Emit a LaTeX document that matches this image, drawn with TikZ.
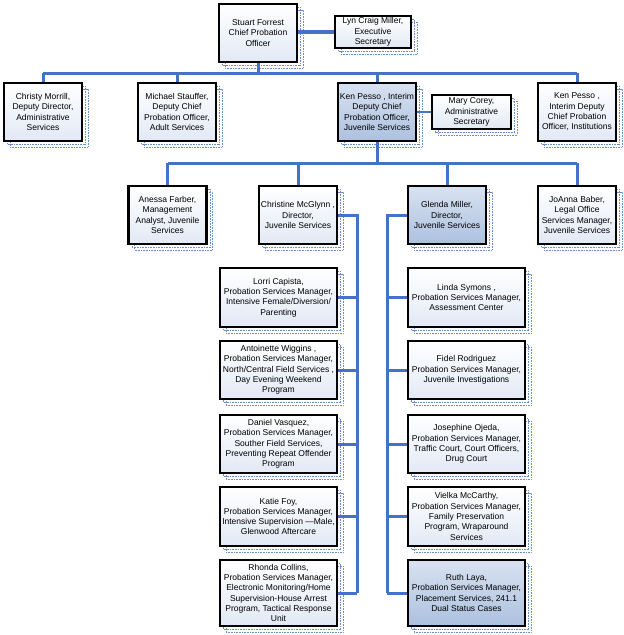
\documentclass[tikz,border=0pt]{standalone}
\usepackage{fontspec}
\setmainfont{Liberation Sans}
\definecolor{conn}{RGB}{68,114,196}
\definecolor{shad}{RGB}{110,140,200}
\definecolor{lightb}{RGB}{226,233,245}
\definecolor{midtop}{RGB}{216,226,241}
\definecolor{midbot}{RGB}{172,193,223}
\tikzset{
  box/.style={draw=black, line width=2.4pt, inner sep=0.5pt, align=center,
    font=\fontsize{8.5}{10.3}\selectfont,
    top color=white, bottom color=lightb,
    preaction={draw=shad, densely dotted, line width=0.6pt, transform canvas={xshift=3.5pt,yshift=-3.5pt}},
    preaction={draw=shad, densely dotted, line width=0.6pt, transform canvas={xshift=6pt,yshift=-6pt}}},
  dark/.style={top color=midtop, bottom color=midbot},
  std/.style={minimum width=78pt, minimum height=58pt},
  col/.style={minimum width=117pt, minimum height=58pt},
  link/.style={draw=conn, line width=3pt}
}
\begin{document}
\begin{tikzpicture}[x=1pt,y=-1pt]
\useasboundingbox (0,0) rectangle (624,635);
\fill[white] (0,0) rectangle (624,635);
\coordinate (b1) at (0,73);
\coordinate (b2) at (0,163);
\coordinate (lv) at (357,0);
\coordinate (rv) at (387,0);
\node[box, std] (stuart) at (258,33) {Stuart Forrest\\Chief Probation\\Officer};
\node[box, minimum width=76pt, minimum height=32pt] (lyn) at (373,32) {Lyn Craig Miller,\\Executive\\Secretary};
\node[box, std] (christy) at (43,112) {Christy Morrill,\\Deputy Director,\\Administrative\\Services};
\node[box, std] (michael) at (177,112) {Michael Stauffer,\\Deputy Chief\\Probation Officer,\\Adult Services};
\node[box, std, dark] (ken) at (377,112) {Ken Pesso , Interim\\Deputy Chief\\Probation Officer,\\Juvenile Services};
\node[box, minimum width=79pt, minimum height=34pt] (mary) at (471.5,112) {Mary Corey,\\Administrative\\Secretary};
\node[box, std] (inst) at (577,112) {Ken Pesso ,\\Interim Deputy\\Chief Probation\\Officer, Institutions};
\node[box, std] (anessa) at (167.5,215) {Anessa Farber,\\Management\\Analyst, Juvenile\\Services};
\node[box, std] (christine) at (298,215) {Christine McGlynn ,\\Director,\\Juvenile Services};
\node[box, std, dark] (glenda) at (447,215) {Glenda Miller,\\Director,\\Juvenile Services};
\node[box, std] (joanna) at (577,215) {JoAnna Baber,\\Legal Office\\Services Manager,\\Juvenile Services};
\node[box, col, minimum height=59pt] (lorri) at (278.5,297.5) {Lorri Capista,\\Probation Services Manager,\\Intensive Female/Diversion/\\Parenting};
\node[box, col] (antoinette) at (278.5,370) {Antoinette Wiggins ,\\Probation Services Manager,\\North/Central Field Services ,\\Day Evening Weekend\\Program};
\node[box, col] (daniel) at (278.5,444) {Daniel Vasquez,\\Probation Services Manager,\\Souther Field Services,\\Preventing Repeat Offender\\Program};
\node[box, col, minimum height=59pt] (katie) at (278.5,516.5) {Katie Foy,\\Probation Services Manager,\\Intensive Supervision ---Male,\\Glenwood Aftercare};
\node[box, col, minimum height=66pt] (rhonda) at (278.5,593) {Rhonda Collins,\\Probation Services Manager,\\Electronic Monitoring/Home\\Supervision-House Arrest\\Program, Tactical Response\\Unit};
\node[box, col, minimum height=59pt] (linda) at (466.5,297.5) {Linda Symons ,\\Probation Services Manager,\\Assessment Center};
\node[box, col] (fidel) at (466.5,370) {Fidel Rodriguez\\Probation Services Manager,\\Juvenile Investigations};
\node[box, col] (josephine) at (466.5,444) {Josephine Ojeda,\\Probation Services Manager,\\Traffic Court, Court Officers,\\Drug Court};
\node[box, col, minimum height=59pt] (vielka) at (466.5,516.5) {Vielka McCarthy,\\Probation Services Manager,\\Family Preservation\\Program, Wraparound\\Services};
\node[box, col, minimum height=66pt, dark] (ruth) at (466.5,593) {Ruth Laya,\\Probation Services Manager,\\Placement Services, 241.1\\Dual Status Cases};
% connectors
\draw[link, line width=3.6pt] (stuart.east |- lyn.west) -- (lyn.west);
\draw[link] (stuart.south) -- (stuart.south |- b1);
\draw[link] (christy.north |- b1) -- (inst.north |- b1);
\foreach \n in {christy,michael,ken,inst}{\draw[link] (\n.north) -- (\n.north |- b1);}
\draw[link, line width=2.4pt] (ken.east) -- (mary.west);
\draw[link] (ken.south) -- (ken.south |- b2);
\draw[link] (anessa.north |- b2) -- (joanna.north |- b2);
\foreach \n in {anessa,christine,glenda,joanna}{\draw[link] (\n.north) -- (\n.north |- b2);}
\draw[link] (christine.east) -- (christine.east -| lv) -- (lv |- rhonda.east);
\draw[link] (glenda.west) -- (glenda.west -| rv) -- (rv |- ruth.west);
\foreach \n in {lorri,antoinette,daniel,katie,rhonda}{\draw[link] (\n.east) -- (\n.east -| lv);}
\foreach \n in {linda,fidel,josephine,vielka,ruth}{\draw[link] (\n.west) -- (\n.west -| rv);}
\end{tikzpicture}
\end{document}
